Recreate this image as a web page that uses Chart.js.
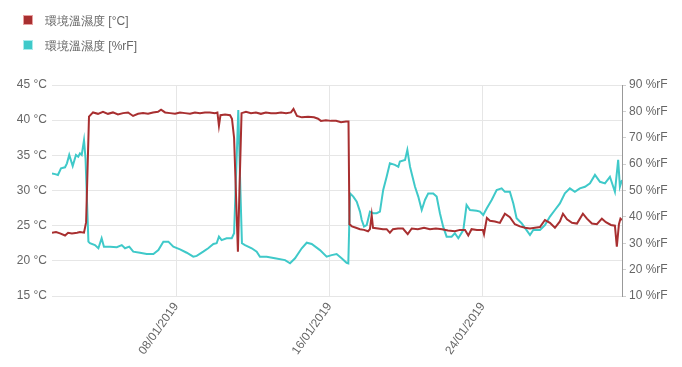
<!DOCTYPE html>
<html>
<head>
<meta charset="utf-8">
<script src="https://cdn.jsdelivr.net/npm/chart.js@4"></script>
<style>
  body { margin: 0; background: #fff; font-family: "Liberation Sans", Arial, sans-serif; }
  #wrap { position: relative; width: 682px; height: 367px; }
  #legend { position: absolute; left: 23px; top: 13px; font-size: 12px; color: #666; }
  .item { height: 25px; display: flex; align-items: flex-start; }
  .box { width: 8px; height: 8px; margin-top: 2px; margin-right: 12px; border: 1px solid; }
</style>
</head>
<body>
<div id="wrap">
  <canvas id="myChart" width="682" height="367"></canvas>
  <div id="legend"></div>
</div>
<script>
// Zeit in Tagen (Januar 2019), 8.0 = 08/01/2019 00:00
let tempDays = [1.53,1.74,1.95,2.21,2.37,2.57,2.84,2.99,3.20,3.31,3.46,3.67,3.93,4.19,4.45,4.71,4.97,5.24,5.50,5.76,6.02,6.28,6.54,6.80,7.06,7.22,7.43,7.69,7.95,8.21,8.47,8.73,8.99,9.25,9.51,9.77,10.03,10.16,10.24,10.32,10.56,10.82,10.92,11.03,11.23,11.31,11.42,11.65,11.91,12.17,12.43,12.69,12.96,13.22,13.48,13.74,14.00,14.13,14.31,14.57,14.89,15.20,15.41,15.56,15.82,16.09,16.35,16.61,16.87,17.00,17.05,17.18,17.39,17.60,17.81,18.02,18.12,18.21,18.28,18.54,18.80,18.99,19.16,19.32,19.58,19.84,20.09,20.30,20.62,20.94,21.25,21.56,21.88,22.19,22.55,22.81,23.08,23.25,23.42,23.70,24.01,24.07,24.22,24.38,24.64,24.90,25.16,25.42,25.68,25.94,26.21,26.47,26.73,26.99,27.25,27.51,27.77,28.03,28.19,28.40,28.66,28.92,29.23,29.44,29.70,29.96,30.22,30.43,30.69,30.90,31.00,31.11,31.19,31.27];
let tempValues = [24.0,24.1,23.9,23.6,24.0,23.9,24.0,24.1,24.0,25.5,40.5,41.1,40.9,41.2,40.9,41.1,40.8,41.0,41.1,40.6,40.9,41.0,40.9,41.1,41.2,41.5,41.1,41.0,40.9,41.1,41.0,40.9,41.1,41.0,41.1,41.1,41.0,41.1,39.2,40.7,40.8,40.7,40.2,37.5,21.3,30.0,41.0,41.2,41.0,41.1,40.9,41.1,41.0,41.0,41.1,41.0,41.1,41.6,40.6,40.4,40.5,40.4,40.2,39.9,40.0,39.9,39.9,39.7,39.8,39.8,25.2,24.9,24.7,24.5,24.4,24.2,24.5,26.5,24.7,24.6,24.5,24.5,24.0,24.5,24.6,24.6,23.8,24.6,24.5,24.7,24.5,24.6,24.5,24.3,24.2,24.4,24.4,23.6,24.5,24.4,24.4,23.8,26.1,25.7,25.6,25.4,26.7,26.2,25.2,24.9,24.7,24.6,24.7,24.8,25.8,25.4,24.7,25.6,26.7,25.9,25.4,25.3,26.7,26.0,25.3,25.2,26.0,25.5,25.1,25.0,22.0,25.2,26.0,25.8];

let humDays = [1.53,1.69,1.84,2.00,2.21,2.31,2.43,2.61,2.78,2.90,2.99,3.08,3.20,3.28,3.43,3.51,3.77,3.95,4.12,4.24,4.56,4.91,5.17,5.34,5.56,5.77,6.12,6.47,6.82,7.08,7.34,7.60,7.86,8.21,8.56,8.90,9.08,9.42,9.68,9.95,10.12,10.24,10.38,10.64,10.91,11.03,11.25,11.36,11.44,11.60,11.95,12.21,12.38,12.73,13.16,13.69,13.95,14.21,14.56,14.82,15.08,15.51,15.86,16.12,16.38,16.64,16.90,16.99,17.08,17.25,17.43,17.60,17.69,17.81,17.95,18.12,18.29,18.47,18.64,18.81,18.99,19.16,19.42,19.60,19.68,19.95,20.07,20.21,20.47,20.64,20.82,20.99,21.16,21.42,21.60,21.77,21.94,22.12,22.38,22.55,22.73,22.99,23.16,23.34,23.69,23.86,24.03,24.21,24.47,24.73,24.99,25.16,25.42,25.60,25.77,26.03,26.29,26.47,26.64,26.99,27.25,27.51,27.77,28.03,28.29,28.55,28.81,29.07,29.34,29.60,29.86,30.12,30.38,30.64,30.90,31.07,31.16,31.27];
let humValues = [56.5,56.2,55.9,58.4,58.8,60.3,63.5,59.3,63.5,62.8,64.1,63.5,69.1,62.0,30.6,30.0,29.3,28.1,31.9,28.7,28.7,28.5,29.3,28.1,28.7,26.8,26.4,25.9,25.9,27.4,30.6,30.6,28.7,27.7,26.4,24.9,25.2,26.8,28.1,29.7,30.0,32.5,31.2,31.9,31.9,33.8,80.5,50.0,30.0,29.3,28.1,26.8,24.9,24.9,24.3,23.6,22.4,24.3,28.1,30.2,29.7,27.4,24.9,25.5,25.9,24.3,22.6,22.4,48.9,47.7,45.8,42.0,38.8,36.3,36.9,42.0,41.4,41.4,42.0,50.2,55.2,60.3,59.7,59.0,61.0,61.6,65.4,59.0,51.4,47.7,42.6,46.4,48.9,48.9,47.7,41.4,36.3,32.5,32.5,33.8,31.9,35.0,44.5,42.6,42.3,42.0,40.7,43.2,46.4,50.2,50.8,49.5,49.5,45.1,39.5,37.6,35.0,33.1,35.0,35.0,36.9,40.1,42.6,45.1,48.9,50.8,49.5,50.8,51.4,52.7,55.9,53.3,52.7,55.2,49.5,61.6,51.4,54.0];

let xTickDays = [8, 16, 24];
let xTickLabels = ['08/01/2019', '16/01/2019', '24/01/2019'];

let labels = ['環境溫濕度 [°C]', '環境溫濕度 [%rF]'];
let colors = ['#a82f30', '#3fc9c9'];
let boxBorders = ['#e8a0a0', '#a8ecec'];

let toPoints = (days, values) => days.map((d, i) => ({ x: d, y: values[i] }));

let plot = () => {
  const ctx = document.getElementById('myChart');
  const dataset = {
    datasets: [{
      label: labels[0],
      data: toPoints(tempDays, tempValues),
      borderColor: colors[0],
      backgroundColor: colors[0],
      borderWidth: 2,
      pointRadius: 0,
      tension: 0,
      yAxisID: 'yT'
    }, {
      label: labels[1],
      data: toPoints(humDays, humValues),
      borderColor: colors[1],
      backgroundColor: colors[1],
      borderWidth: 2,
      pointRadius: 0,
      tension: 0,
      yAxisID: 'yH'
    }]
  };
  const tickFont = { family: '"Liberation Sans", Arial, sans-serif', size: 12 };
  const config = {
    type: 'line',
    data: dataset,
    options: {
      responsive: false,
      animation: false,
      layout: { padding: { top: 85 } },
      plugins: { legend: { display: false }, tooltip: { enabled: false } },
      scales: {
        x: {
          type: 'linear',
          min: tempDays[0],
          max: tempDays[tempDays.length - 1],
          afterBuildTicks: (axis) => { axis.ticks = xTickDays.map(v => ({ value: v })); },
          afterFit: (axis) => { axis.height = 71; },
          ticks: {
            color: '#666',
            font: tickFont,
            minRotation: 55,
            maxRotation: 55,
            padding: 4,
            callback: (v) => xTickLabels[xTickDays.indexOf(v)]
          },
          grid: { color: '#e6e6e6', drawTicks: false },
          border: { display: false }
        },
        yT: {
          position: 'left',
          min: 15,
          max: 45,
          afterFit: (axis) => { axis.width = 52; },
          ticks: { stepSize: 5, color: '#666', font: tickFont, padding: 5, callback: (v) => v + ' °C' },
          grid: { color: '#e6e6e6', drawTicks: false },
          border: { display: false }
        },
        yH: {
          position: 'right',
          min: 10,
          max: 90,
          afterFit: (axis) => { axis.width = 60; },
          ticks: { stepSize: 10, color: '#666', font: tickFont, padding: 3, callback: (v) => v + ' %rF' },
          grid: { drawOnChartArea: false, color: '#cfcfcf', tickLength: 4 },
          border: { display: true, color: '#999' }
        }
      }
    }
  };
  const chart = new Chart(ctx, config);
  return chart;
};

let load = (chart) => {
  let legendHTML = document.getElementById('legend');
  chart.data.datasets.forEach((ds, i) => {
    let item = document.createElement('div');
    item.className = 'item';
    let box = document.createElement('span');
    box.className = 'box';
    box.style.background = ds.borderColor;
    box.style.borderColor = boxBorders[i];
    let text = document.createElement('span');
    text.textContent = ds.label;
    item.appendChild(box);
    item.appendChild(text);
    legendHTML.appendChild(item);
  });
};

(function () {
  let chart = plot();
  load(chart);
})();
</script>
</body>
</html>
